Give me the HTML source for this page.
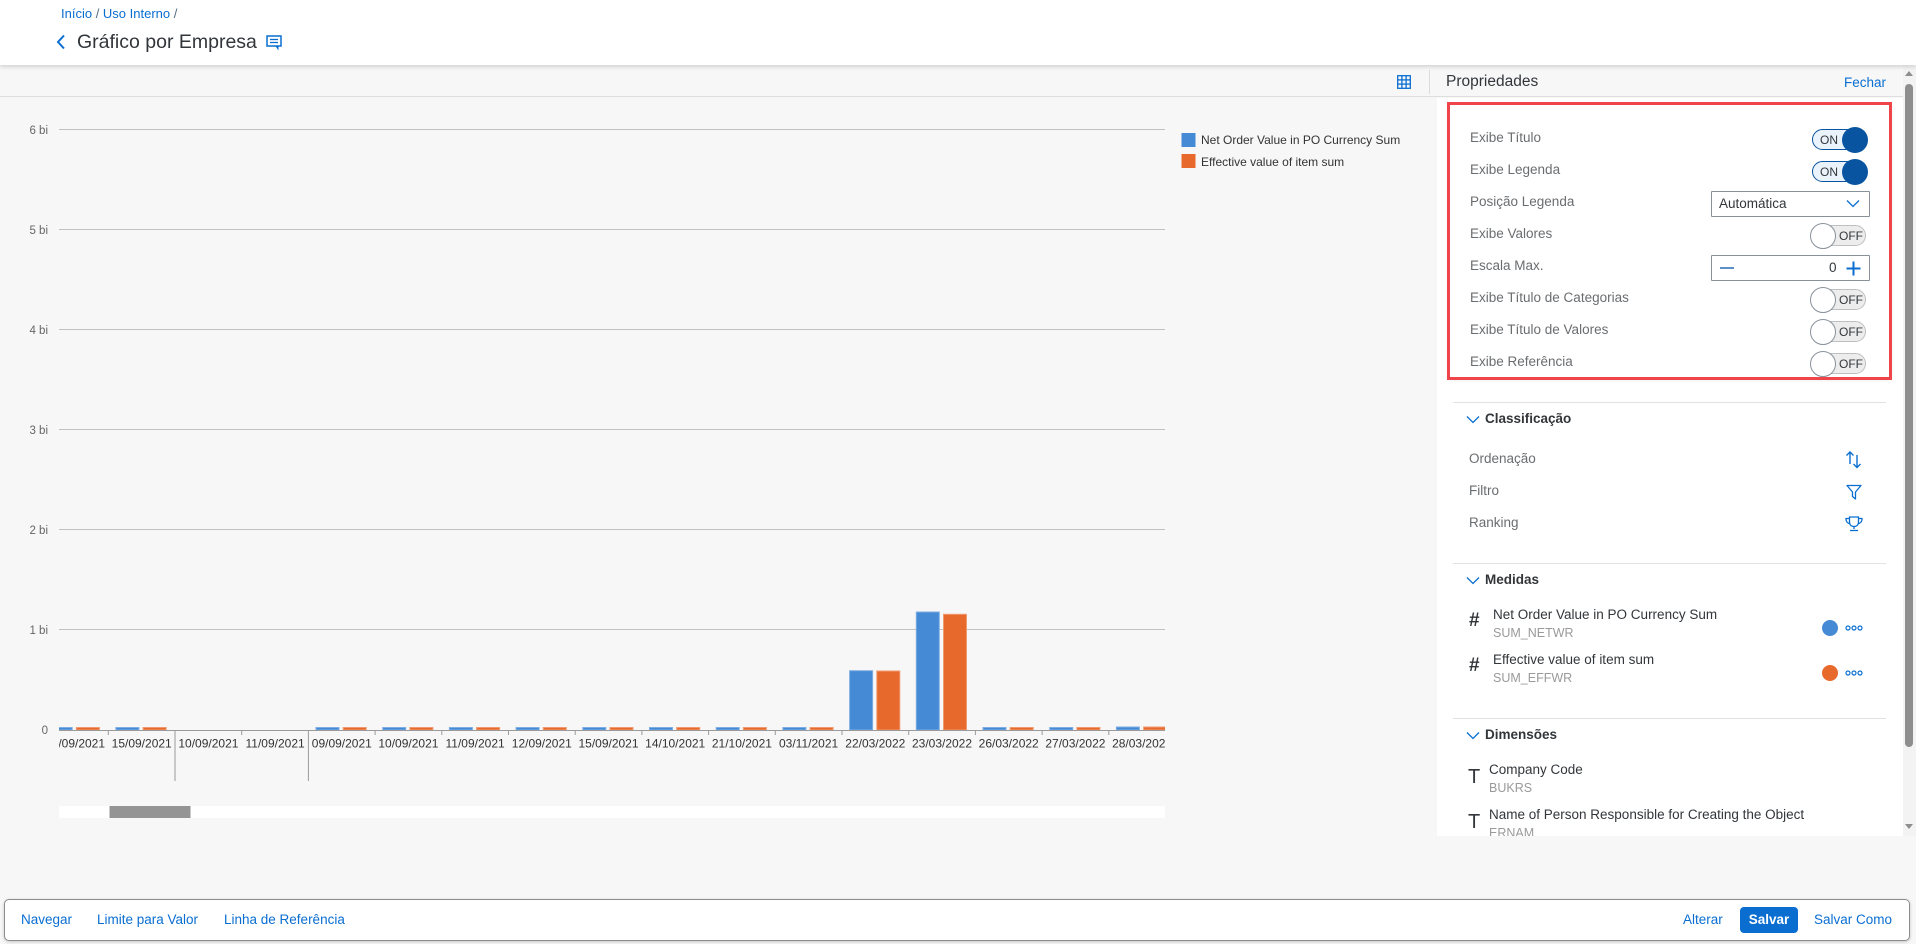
<!DOCTYPE html>
<html><head><meta charset="utf-8">
<style>
*{margin:0;padding:0;box-sizing:border-box}
html,body{width:1916px;height:944px;overflow:hidden;background:#f7f7f7;font-family:"Liberation Sans",sans-serif;color:#32363a}
.a{position:absolute}
.t{position:absolute;white-space:nowrap;line-height:20px;height:20px}
.lbl{font-size:13.5px;color:#6a6d70}
.blue{color:#0a6ed1}
.on{position:absolute;width:55px;height:21px;border:1px solid #0854a0;border-radius:11px;background:#eaf3fc}
.onk{position:absolute;width:26px;height:26px;border-radius:50%;background:#0854a0}
.ont{position:absolute;font-size:12px;line-height:14px;color:#32363a}
.off{position:absolute;width:54px;height:21px;border:1px solid #bfbfbf;border-radius:11px;background:#ededed}
.offk{position:absolute;width:26px;height:26px;border-radius:50%;background:#fff;border:1px solid #89919a}
.sep{position:absolute;left:1453px;width:433px;height:1px;background:#e2e2e2}
.hdr{font-size:13.5px;font-weight:bold;color:#32363a}
.sub{font-size:12.5px;color:#9a9a9a}
</style></head><body>

<!-- header -->
<div class="a" style="left:0;top:0;width:1916px;height:65px;background:#fff;box-shadow:0 2px 4px rgba(0,0,0,0.15);z-index:2"></div>
<div class="t" style="left:61px;top:4px;font-size:13px;z-index:3"><span class="blue">Início</span><span style="color:#556b82"> / </span><span class="blue">Uso Interno</span><span style="color:#556b82"> /</span></div>
<svg class="a" style="left:55px;top:34px;z-index:3" width="12" height="16"><polyline points="9,1.5 3,8 9,14.5" fill="none" stroke="#0a6ed1" stroke-width="2"/></svg>
<div class="t" style="left:77px;top:31px;font-size:19.5px;line-height:22px;height:22px;color:#32363a;z-index:3">Gráfico por Empresa</div>
<svg class="a" style="left:266px;top:35px;z-index:3" width="17" height="15"><rect x="1" y="1" width="14" height="10" fill="none" stroke="#0a6ed1" stroke-width="1.5"/><line x1="4" y1="4.5" x2="12" y2="4.5" stroke="#0a6ed1" stroke-width="1.3"/><line x1="4" y1="7.5" x2="12" y2="7.5" stroke="#0a6ed1" stroke-width="1.3"/><polyline points="10,11 12,14 12,11" fill="#0a6ed1" stroke="#0a6ed1" stroke-width="1"/></svg>

<!-- toolbar strip -->
<div class="a" style="left:0;top:65px;width:1916px;height:32px;background:#f7f7f7;border-bottom:1px solid #dedede"></div>
<svg class="a" style="left:1397px;top:75px" width="14" height="14"><g fill="none" stroke="#0a6ed1" stroke-width="1.3"><rect x="0.7" y="0.7" width="12.6" height="12.6"/><line x1="4.9" y1="0" x2="4.9" y2="14"/><line x1="9.1" y1="0" x2="9.1" y2="14"/><line x1="0" y1="4.9" x2="14" y2="4.9"/><line x1="0" y1="9.1" x2="14" y2="9.1"/></g></svg>
<div class="a" style="left:1429px;top:70px;width:1px;height:24px;background:#dcdcdc"></div>
<div class="t" style="left:1446px;top:72px;font-size:15.5px;color:#32363a">Propriedades</div>
<div class="t" style="left:1844px;top:73px;font-size:13.5px;color:#0a6ed1">Fechar</div>

<!-- properties panel -->
<div class="a" style="left:1437px;top:98px;width:466px;height:738px;background:#fff"></div>
<div class="a" style="left:1450px;top:105px;width:439px;height:272px;background:#fff;box-shadow:0 1px 5px rgba(0,0,0,0.22)"></div>
<div class="a" style="left:1447px;top:102px;width:445px;height:278px;border:3px solid #ef4449"></div>

<div class="t lbl" style="left:1470px;top:128px">Exibe Título</div>
<div class="t lbl" style="left:1470px;top:160px">Exibe Legenda</div>
<div class="t lbl" style="left:1470px;top:192px">Posição Legenda</div>
<div class="t lbl" style="left:1470px;top:224px">Exibe Valores</div>
<div class="t lbl" style="left:1470px;top:256px">Escala Max.</div>
<div class="t lbl" style="left:1470px;top:288px">Exibe Título de Categorias</div>
<div class="t lbl" style="left:1470px;top:320px">Exibe Título de Valores</div>
<div class="t lbl" style="left:1470px;top:352px">Exibe Referência</div>

<!-- ON toggles -->
<div class="on" style="left:1812px;top:129px"></div><div class="ont" style="left:1820px;top:133px">ON</div><div class="onk" style="left:1842px;top:127px"></div>
<div class="on" style="left:1812px;top:161px"></div><div class="ont" style="left:1820px;top:165px">ON</div><div class="onk" style="left:1842px;top:159px"></div>
<!-- dropdown -->
<div class="a" style="left:1711px;top:191px;width:159px;height:26px;border:1px solid #89919a;background:#fff;border-radius:1px"></div>
<div class="t" style="left:1719px;top:194px;font-size:13.5px;color:#32363a">Automática</div>
<svg class="a" style="left:1846px;top:199px" width="14" height="9"><polyline points="1,1.5 7,7.5 13,1.5" fill="none" stroke="#0a6ed1" stroke-width="1.3"/></svg>
<!-- OFF toggles -->
<div class="off" style="left:1812px;top:225px"></div><div class="ont" style="left:1839px;top:229px">OFF</div><div class="offk" style="left:1810px;top:223px"></div>
<!-- stepper -->
<div class="a" style="left:1711px;top:255px;width:159px;height:26px;border:1px solid #89919a;background:#fff;border-radius:1px"></div>
<div class="a" style="left:1720px;top:267px;width:14px;height:1.5px;background:#5b8fc9"></div>
<div class="t" style="left:1829px;top:258px;font-size:13.5px;color:#32363a">0</div>
<svg class="a" style="left:1846px;top:261px" width="15" height="15"><line x1="7.5" y1="0.5" x2="7.5" y2="14.5" stroke="#0a6ed1" stroke-width="2"/><line x1="0.5" y1="7.5" x2="14.5" y2="7.5" stroke="#0a6ed1" stroke-width="2"/></svg>
<div class="off" style="left:1812px;top:289px"></div><div class="ont" style="left:1839px;top:293px">OFF</div><div class="offk" style="left:1810px;top:287px"></div>
<div class="off" style="left:1812px;top:321px"></div><div class="ont" style="left:1839px;top:325px">OFF</div><div class="offk" style="left:1810px;top:319px"></div>
<div class="off" style="left:1812px;top:353px"></div><div class="ont" style="left:1839px;top:357px">OFF</div><div class="offk" style="left:1810px;top:351px"></div>

<!-- Classificação -->
<div class="sep" style="top:402px"></div>
<svg class="a" style="left:1466px;top:415px" width="14" height="9"><polyline points="1,1.5 7,7.5 13,1.5" fill="none" stroke="#0a6ed1" stroke-width="1.3"/></svg>
<div class="t hdr" style="left:1485px;top:409px">Classificação</div>
<div class="t lbl" style="left:1469px;top:449px">Ordenação</div>
<div class="t lbl" style="left:1469px;top:481px">Filtro</div>
<div class="t lbl" style="left:1469px;top:513px">Ranking</div>
<svg class="a" style="left:1845px;top:451px" width="18" height="18"><g fill="none" stroke="#0a6ed1" stroke-width="1.4"><line x1="5" y1="1" x2="5" y2="13"/><polyline points="1.5,4.5 5,1 8.5,4.5"/><line x1="12" y1="4" x2="12" y2="16.5"/><polyline points="8.5,13 12,16.5 15.5,13"/></g></svg>
<svg class="a" style="left:1846px;top:484px" width="16" height="16"><path d="M1,1.5 H15 L9.5,8 V15 L6.5,12.5 V8 Z" fill="none" stroke="#0a6ed1" stroke-width="1.3" stroke-linejoin="round"/></svg>
<svg class="a" style="left:1845px;top:516px" width="18" height="16"><g fill="none" stroke="#0a6ed1" stroke-width="1.3"><path d="M4.5,1 H13.5 V6 C13.5,9 11.5,10.5 9,10.5 C6.5,10.5 4.5,9 4.5,6 Z"/><path d="M4.5,2.5 H1 C1,6 3,7.5 5,7.5"/><path d="M13.5,2.5 H17 C17,6 15,7.5 13,7.5"/><line x1="9" y1="10.5" x2="9" y2="13"/><line x1="5" y1="14.5" x2="13" y2="14.5"/></g></svg>

<!-- Medidas -->
<div class="sep" style="top:563px"></div>
<svg class="a" style="left:1466px;top:576px" width="14" height="9"><polyline points="1,1.5 7,7.5 13,1.5" fill="none" stroke="#0a6ed1" stroke-width="1.3"/></svg>
<div class="t hdr" style="left:1485px;top:570px">Medidas</div>
<div class="t" style="left:1469px;top:611px;font-size:19px;font-weight:bold;color:#32363a">#</div>
<div class="t" style="left:1493px;top:605px;font-size:13.5px;color:#32363a">Net Order Value in PO Currency Sum</div>
<div class="t sub" style="left:1493px;top:623px">SUM_NETWR</div>
<div class="a" style="left:1822px;top:620px;width:16px;height:16px;border-radius:50%;background:#448ad5"></div>
<svg class="a" style="left:1845px;top:624px" width="18" height="8"><g fill="none" stroke="#0a6ed1" stroke-width="1.2"><circle cx="3" cy="4" r="2"/><circle cx="9" cy="4" r="2"/><circle cx="15" cy="4" r="2"/></g></svg>
<div class="t" style="left:1469px;top:656px;font-size:19px;font-weight:bold;color:#32363a">#</div>
<div class="t" style="left:1493px;top:650px;font-size:13.5px;color:#32363a">Effective value of item sum</div>
<div class="t sub" style="left:1493px;top:668px">SUM_EFFWR</div>
<div class="a" style="left:1822px;top:665px;width:16px;height:16px;border-radius:50%;background:#e8692c"></div>
<svg class="a" style="left:1845px;top:669px" width="18" height="8"><g fill="none" stroke="#0a6ed1" stroke-width="1.2"><circle cx="3" cy="4" r="2"/><circle cx="9" cy="4" r="2"/><circle cx="15" cy="4" r="2"/></g></svg>

<!-- Dimensões -->
<div class="sep" style="top:718px"></div>
<svg class="a" style="left:1466px;top:731px" width="14" height="9"><polyline points="1,1.5 7,7.5 13,1.5" fill="none" stroke="#0a6ed1" stroke-width="1.3"/></svg>
<div class="t hdr" style="left:1485px;top:725px">Dimensões</div>
<div class="a" style="left:1437px;top:750px;width:466px;height:86px;overflow:hidden">
  <div class="t" style="left:31px;top:16px;font-size:20px;line-height:22px;height:22px;color:#32363a">T</div>
  <div class="t" style="left:52px;top:10px;font-size:13.5px;color:#32363a">Company Code</div>
  <div class="t sub" style="left:52px;top:28px">BUKRS</div>
  <div class="t" style="left:31px;top:61px;font-size:20px;line-height:22px;height:22px;color:#32363a">T</div>
  <div class="t" style="left:52px;top:55px;font-size:13.5px;color:#32363a">Name of Person Responsible for Creating the Object</div>
  <div class="t sub" style="left:52px;top:73px">ERNAM</div>
</div>

<!-- scrollbar -->
<div class="a" style="left:1903px;top:66px;width:13px;height:770px;background:#f3f3f3"></div>
<div class="a" style="left:1905px;top:84px;width:8px;height:663px;border-radius:4px;background:#8e8e8e"></div>
<svg class="a" style="left:1904px;top:70px" width="10" height="7"><polygon points="5,1 9,6 1,6" fill="#8e8e8e"/></svg>
<svg class="a" style="left:1904px;top:823px" width="10" height="7"><polygon points="1,1 9,1 5,6" fill="#8e8e8e"/></svg>

<!-- chart -->
<svg class="a" style="left:0;top:0" width="1436" height="836" font-family="Liberation Sans, sans-serif">
  <defs><clipPath id="c"><rect x="59" y="100" width="1106" height="700"/></clipPath></defs>
  <g fill="#666" font-size="11.5" text-anchor="end">
    <text x="48" y="134">6 bi</text>
    <text x="48" y="234">5 bi</text>
    <text x="48" y="334">4 bi</text>
    <text x="48" y="434">3 bi</text>
    <text x="48" y="534">2 bi</text>
    <text x="48" y="634">1 bi</text>
    <text x="48" y="734">0</text>
  </g>
  <g stroke="#c2c2c2" stroke-width="1">
    <line x1="59" y1="129.5" x2="1165" y2="129.5"/>
    <line x1="59" y1="229.5" x2="1165" y2="229.5"/>
    <line x1="59" y1="329.5" x2="1165" y2="329.5"/>
    <line x1="59" y1="429.5" x2="1165" y2="429.5"/>
    <line x1="59" y1="529.5" x2="1165" y2="529.5"/>
    <line x1="59" y1="629.5" x2="1165" y2="629.5"/>
  </g>
  <g clip-path="url(#c)">
    <g fill="#448ad5" stroke="#7eaee3" stroke-width="1">
      <rect x="49.2" y="727.5" width="23" height="2.5"/>
      <rect x="115.9" y="727.5" width="23" height="2.5"/>
      <rect x="316" y="727.5" width="23" height="2.5"/>
      <rect x="382.7" y="727.5" width="23" height="2.5"/>
      <rect x="449.4" y="727.5" width="23" height="2.5"/>
      <rect x="516.1" y="727.5" width="23" height="2.5"/>
      <rect x="582.8" y="727.5" width="23" height="2.5"/>
      <rect x="649.5" y="727.5" width="23" height="2.5"/>
      <rect x="716.2" y="727.5" width="23" height="2.5"/>
      <rect x="782.9" y="727.5" width="23" height="2.5"/>
      <rect x="849.6" y="670.7" width="23" height="59.3"/>
      <rect x="916.3" y="612" width="23" height="118"/>
      <rect x="983" y="727.5" width="23" height="2.5"/>
      <rect x="1049.7" y="727.5" width="23" height="2.5"/>
      <rect x="1116.4" y="727" width="23" height="3"/>
    </g>
    <g fill="#e8692c" stroke="#f09a70" stroke-width="1">
      <rect x="76.4" y="727.5" width="23" height="2.5"/>
      <rect x="143.1" y="727.5" width="23" height="2.5"/>
      <rect x="343.2" y="727.5" width="23" height="2.5"/>
      <rect x="409.9" y="727.5" width="23" height="2.5"/>
      <rect x="476.6" y="727.5" width="23" height="2.5"/>
      <rect x="543.3" y="727.5" width="23" height="2.5"/>
      <rect x="610" y="727.5" width="23" height="2.5"/>
      <rect x="676.7" y="727.5" width="23" height="2.5"/>
      <rect x="743.4" y="727.5" width="23" height="2.5"/>
      <rect x="810.1" y="727.5" width="23" height="2.5"/>
      <rect x="876.8" y="671" width="23" height="59"/>
      <rect x="943.5" y="614.3" width="23" height="115.7"/>
      <rect x="1010.2" y="727.5" width="23" height="2.5"/>
      <rect x="1076.9" y="727.5" width="23" height="2.5"/>
      <rect x="1143.6" y="727" width="23" height="3"/>
    </g>
    <line x1="59" y1="730.5" x2="1165" y2="730.5" stroke="#9a9a9a" stroke-width="1"/>
    <g stroke="#9a9a9a" stroke-width="1">
      <line x1="108.3" y1="730" x2="108.3" y2="735"/>
      <line x1="175" y1="730" x2="175" y2="781"/>
      <line x1="241.7" y1="730" x2="241.7" y2="735"/>
      <line x1="308.4" y1="730" x2="308.4" y2="781"/>
      <line x1="375.1" y1="730" x2="375.1" y2="735"/>
      <line x1="441.8" y1="730" x2="441.8" y2="735"/>
      <line x1="508.5" y1="730" x2="508.5" y2="735"/>
      <line x1="575.2" y1="730" x2="575.2" y2="735"/>
      <line x1="641.9" y1="730" x2="641.9" y2="735"/>
      <line x1="708.6" y1="730" x2="708.6" y2="735"/>
      <line x1="775.3" y1="730" x2="775.3" y2="735"/>
      <line x1="842" y1="730" x2="842" y2="735"/>
      <line x1="908.7" y1="730" x2="908.7" y2="735"/>
      <line x1="975.4" y1="730" x2="975.4" y2="735"/>
      <line x1="1042.1" y1="730" x2="1042.1" y2="735"/>
      <line x1="1108.8" y1="730" x2="1108.8" y2="735"/>
    </g>
    <g fill="#333" font-size="12" text-anchor="middle">
      <text x="75" y="747.5">14/09/2021</text>
      <text x="141.7" y="747.5">15/09/2021</text>
      <text x="208.4" y="747.5">10/09/2021</text>
      <text x="275.1" y="747.5">11/09/2021</text>
      <text x="341.8" y="747.5">09/09/2021</text>
      <text x="408.4" y="747.5">10/09/2021</text>
      <text x="475.1" y="747.5">11/09/2021</text>
      <text x="541.8" y="747.5">12/09/2021</text>
      <text x="608.5" y="747.5">15/09/2021</text>
      <text x="675.2" y="747.5">14/10/2021</text>
      <text x="741.9" y="747.5">21/10/2021</text>
      <text x="808.6" y="747.5">03/11/2021</text>
      <text x="875.3" y="747.5">22/03/2022</text>
      <text x="942" y="747.5">23/03/2022</text>
      <text x="1008.7" y="747.5">26/03/2022</text>
      <text x="1075.4" y="747.5">27/03/2022</text>
      <text x="1142.1" y="747.5">28/03/2022</text>
    </g>
  </g>
  <rect x="59" y="806" width="1106" height="12" fill="#fff"/>
  <rect x="109.5" y="806" width="81" height="12" fill="#949494"/>
  <!-- legend -->
  <rect x="1181.5" y="133" width="14" height="14" fill="#448ad5"/>
  <rect x="1181.5" y="154" width="14" height="14" fill="#e8692c"/>
  <g fill="#333" font-size="12">
    <text x="1201" y="144.2">Net Order Value in PO Currency Sum</text>
    <text x="1201" y="165.9">Effective value of item sum</text>
  </g>
</svg>

<!-- footer -->
<div class="a" style="left:4px;top:899px;width:1906px;height:42px;background:#fff;border:1px solid #8c8c8c;border-radius:5px;box-shadow:0 1px 3px rgba(0,0,0,0.2)"></div>
<div class="t" style="left:21px;top:910px;font-size:13.5px;color:#0a6ed1">Navegar</div>
<div class="t" style="left:97px;top:910px;font-size:13.5px;color:#0a6ed1">Limite para Valor</div>
<div class="t" style="left:224px;top:910px;font-size:13.5px;color:#0a6ed1">Linha de Referência</div>
<div class="t" style="left:1683px;top:910px;font-size:13.5px;color:#0a6ed1">Alterar</div>
<div class="a" style="left:1740px;top:907px;width:58px;height:26px;border-radius:4px;background:#0a6ed1"></div>
<div class="t" style="left:1740px;top:910px;width:58px;text-align:center;font-size:13.5px;font-weight:bold;color:#fff">Salvar</div>
<div class="t" style="left:1814px;top:910px;font-size:13.5px;color:#0a6ed1">Salvar Como</div>

</body></html>
